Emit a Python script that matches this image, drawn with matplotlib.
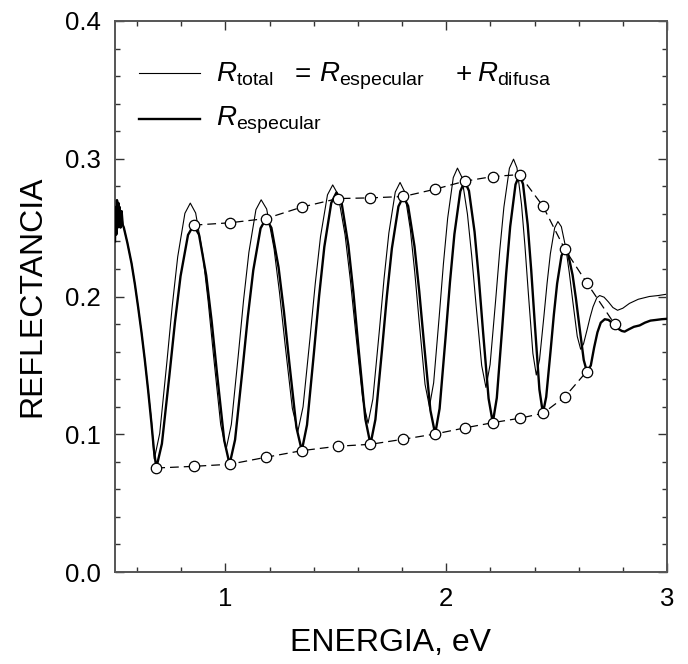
import matplotlib
matplotlib.use("Agg")
import matplotlib.pyplot as plt
from matplotlib.ticker import MultipleLocator

plt.rcParams['font.family'] = ['Liberation Sans', 'DejaVu Sans']
plt.rcParams['mathtext.fontset'] = 'custom'
plt.rcParams['mathtext.rm'] = 'Liberation Sans'
plt.rcParams['mathtext.it'] = 'Liberation Sans:italic'

# ---- data ----
spec_x = [0.500, 0.503, 0.506, 0.509, 0.512, 0.515, 0.518, 0.521, 0.525, 0.530, 0.535, 0.540,
          0.556, 0.575, 0.590, 0.605, 0.620, 0.635, 0.650, 0.665, 0.676,
          0.687, 0.7124, 0.7462, 0.7715, 0.7969, 0.8307,
          0.856, 0.8805, 0.9131, 0.9375, 0.9620, 0.9946,
          1.019, 1.0438, 1.0768, 1.1015, 1.1263, 1.1593,
          1.184, 1.2083, 1.2407, 1.265, 1.2893, 1.3217,
          1.346, 1.3696, 1.4010, 1.4245, 1.4481, 1.4795,
          1.503, 1.5261, 1.5569, 1.580, 1.6031, 1.6339,
          1.657, 1.6794, 1.7092, 1.7315, 1.7539, 1.7837,
          1.806, 1.8276, 1.8564, 1.878, 1.8996, 1.9284,
          1.950, 1.9701, 1.9969, 2.017, 2.0371, 2.0639,
          2.084, 2.1031, 2.1285, 2.1475, 2.1666, 2.1920,
          2.211, 2.2292, 2.2534, 2.2715, 2.2897, 2.3139,
          2.332, 2.3479, 2.3691, 2.385, 2.4009, 2.4221,
          2.438, 2.4529, 2.4727, 2.4875, 2.5024, 2.5222,
          2.537, 2.5522, 2.5724, 2.5875, 2.6027, 2.6229,
          2.638, 2.655, 2.670, 2.685, 2.700, 2.718, 2.735, 2.750, 2.765, 2.780,
          2.795, 2.808, 2.825, 2.850, 2.876, 2.900, 2.925, 2.951, 2.975, 3.000]
spec_y = [0.240, 0.265, 0.245, 0.270, 0.250, 0.268, 0.255, 0.265, 0.250, 0.262, 0.252, 0.250,
          0.239, 0.224, 0.209, 0.192, 0.174, 0.154, 0.132, 0.108, 0.089,
          0.0755, 0.0931, 0.1425, 0.1813, 0.2148, 0.2447,
          0.2518, 0.2449, 0.2153, 0.1824, 0.1442, 0.0956,
          0.0782, 0.0960, 0.1460, 0.1852, 0.2191, 0.2495,
          0.2566, 0.2499, 0.2212, 0.1892, 0.1521, 0.1049,
          0.0881, 0.1068, 0.1593, 0.2005, 0.2361, 0.2680,
          0.2755, 0.2682, 0.2371, 0.2024, 0.1622, 0.1110,
          0.0927, 0.1107, 0.1611, 0.2006, 0.2348, 0.2654,
          0.2726, 0.2657, 0.2364, 0.2036, 0.1657, 0.1174,
          0.1002, 0.1186, 0.1699, 0.2103, 0.2452, 0.2764,
          0.2837, 0.2767, 0.2469, 0.2136, 0.1750, 0.1259,
          0.1084, 0.1264, 0.1768, 0.2165, 0.2507, 0.2813,
          0.2885, 0.2816, 0.2521, 0.2192, 0.1811, 0.1325,
          0.1152, 0.1271, 0.1605, 0.1867, 0.2094, 0.2296,
          0.2344, 0.2308, 0.2156, 0.1986, 0.1790, 0.1539,
          0.1450, 0.150, 0.163, 0.174, 0.181, 0.1835, 0.1830, 0.181, 0.179, 0.1765,
          0.175, 0.1745, 0.176, 0.178, 0.179, 0.181, 0.1825, 0.183, 0.1835, 0.1838]

total_x = [0.500, 0.503, 0.506, 0.509, 0.512, 0.515, 0.518, 0.521, 0.525, 0.530, 0.535, 0.540,
           0.556, 0.575, 0.590, 0.605, 0.620, 0.635, 0.650, 0.665,
           0.678, 0.7025, 0.7351, 0.7595, 0.7840, 0.8166,
           0.841, 0.8653, 0.8977, 0.922, 0.9463, 0.9787,
           1.003, 1.0269, 1.0587, 1.0825, 1.1064, 1.1382,
           1.162, 1.1869, 1.2201, 1.245, 1.2699, 1.3031,
           1.328, 1.3517, 1.3833, 1.407, 1.4307, 1.4623,
           1.486, 1.510, 1.542, 1.566, 1.590, 1.622,
           1.646, 1.6678, 1.6968, 1.7185, 1.7403, 1.7693,
           1.791, 1.811, 1.8376, 1.8575, 1.8775, 1.9041,
           1.924, 1.9431, 1.9685, 1.9875, 2.0066, 2.032,
           2.051, 2.0704, 2.0962, 2.1155, 2.1349, 2.1607,
           2.180, 2.1988, 2.2238, 2.2425, 2.2613, 2.2863,
           2.305, 2.3205, 2.3411, 2.3565, 2.372, 2.3926,
           2.408, 2.4227, 2.4423, 2.457, 2.4717, 2.4913,
           2.506, 2.5215, 2.5421, 2.5575, 2.573, 2.5936,
           2.609, 2.6219, 2.6391, 2.652, 2.6649, 2.6821,
           2.695, 2.715, 2.735, 2.755, 2.776, 2.800, 2.830, 2.870, 2.920, 2.960, 3.000]
total_y = [0.242, 0.263, 0.247, 0.268, 0.251, 0.266, 0.256, 0.264, 0.251, 0.261, 0.253, 0.250,
           0.239, 0.224, 0.209, 0.192, 0.174, 0.154, 0.132, 0.110,
           0.082, 0.1006, 0.1526, 0.1935, 0.2288, 0.2604,
           0.2678, 0.2606, 0.2303, 0.1963, 0.1569, 0.1069,
           0.089, 0.1071, 0.1579, 0.1977, 0.2321, 0.2630,
           0.2702, 0.2635, 0.2349, 0.2029, 0.1659, 0.1188,
           0.102, 0.1199, 0.1700, 0.2094, 0.2434, 0.2738,
           0.281, 0.2741, 0.2447, 0.2118, 0.1737, 0.1253,
           0.108, 0.1255, 0.1744, 0.2129, 0.2461, 0.2758,
           0.2828, 0.2763, 0.2486, 0.2177, 0.1819, 0.1363,
           0.120, 0.1373, 0.1858, 0.2239, 0.2568, 0.2863,
           0.2932, 0.2868, 0.2598, 0.2295, 0.1945, 0.1499,
           0.134, 0.1506, 0.1970, 0.2334, 0.2649, 0.2931,
           0.2997, 0.2934, 0.2668, 0.2370, 0.2025, 0.1587,
           0.143, 0.1541, 0.1853, 0.2098, 0.2310, 0.2499,
           0.2544, 0.2507, 0.2349, 0.2173, 0.1969, 0.1710,
           0.1617, 0.1656, 0.1765, 0.1851, 0.1925, 0.1991,
           0.2007, 0.1995, 0.196, 0.192, 0.190, 0.1915, 0.195, 0.198, 0.200, 0.2007, 0.2017]

upper_x = [0.856, 1.019, 1.184, 1.346, 1.509, 1.657, 1.806, 1.950, 2.084, 2.211, 2.332, 2.438, 2.537, 2.636, 2.763]
upper_y = [0.2518, 0.2535, 0.2566, 0.2649, 0.2711, 0.2716, 0.2726, 0.2779, 0.2837, 0.2871, 0.2885, 0.2656, 0.2344, 0.2101, 0.1799]
lower_x = [0.687, 0.856, 1.019, 1.184, 1.346, 1.509, 1.657, 1.806, 1.950, 2.084, 2.211, 2.332, 2.438, 2.537, 2.636]
lower_y = [0.0755, 0.0767, 0.0782, 0.0833, 0.0881, 0.0913, 0.0927, 0.0964, 0.1002, 0.1046, 0.1084, 0.1116, 0.1152, 0.1271, 0.1455]

x_ticks = [1, 2, 3]
y_ticks = [0.0, 0.1, 0.2, 0.3, 0.4]

# ---- figure ----
W, H = 688, 664
fig = plt.figure(figsize=(W / 100, H / 100), dpi=100)
L, R, T, B = 115, 667, 21, 572
ax = fig.add_axes([L / W, (H - B) / H, (R - L) / W, (B - T) / H])

ax.plot(total_x, total_y, color='black', lw=0.8, zorder=2)
ax.plot(spec_x, spec_y, color='black', lw=1.7, zorder=3)
env_kw = dict(color='black', lw=0.9, dashes=(7, 4), marker='o', markersize=7.5,
              markerfacecolor='white', markeredgecolor='black', markeredgewidth=0.9, zorder=4)
ax.plot(upper_x, upper_y, **env_kw)
ax.plot(lower_x, lower_y, **env_kw)

ax.set_xlim(0.5, 3.0)
ax.set_ylim(0.0, 0.4)
ax.set_xticks(x_ticks)
ax.set_xticklabels([str(v) for v in x_ticks])
ax.set_yticks(y_ticks)
ax.set_yticklabels([f"{v:.1f}" for v in y_ticks])
ax.xaxis.set_minor_locator(MultipleLocator(0.2))
ax.yaxis.set_minor_locator(MultipleLocator(0.02))
ax.tick_params(which='both', direction='in', top=True, right=True, color='#333333')
ax.tick_params(which='major', length=6.5, width=1.0, labelsize=18.5, pad=10)
ax.tick_params(which='minor', length=3.5, width=1.0)
ax.tick_params(axis='x', which='major', pad=11)
for s in ax.spines.values():
    s.set_linewidth(1.4)
    s.set_color('#555555')

ax.set_xlabel('ENERGIA, eV', fontsize=23)
ax.set_ylabel('REFLECTANCIA', fontsize=23)
ax.xaxis.set_label_coords(0.5, (B - 628) / (B - T))
ax.yaxis.set_label_coords((17 - L) / (R - L), 0.5)
ax.yaxis.label.set_va('top')


def axc(px, py):
    return (px - L) / (R - L), (B - py) / (B - T)


# legend drawn manually
row1, row2 = 73, 119
for py, lw in ((row1, 0.8), (row2, 1.7)):
    x0, y0 = axc(139, py)
    x1, _ = axc(200, py)
    ax.plot([x0, x1], [y0, y0], color='black', lw=lw, transform=ax.transAxes, clip_on=False)

fs = 20
base1 = row1 + 9
base2 = row2 + 6
pieces = [(216, base1, r'$R_{\mathrm{total}}$'), (295, base1, '='),
          (319, base1, r'$R_{\mathrm{especular}}$'), (456, base1, '+'),
          (477, base1, r'$R_{\mathrm{difusa}}$'), (216, base2, r'$R_{\mathrm{especular}}$')]
for px, py, s in pieces:
    tx, ty = axc(px, py)
    ax.text(tx, ty, s, transform=ax.transAxes, fontsize=fs, ha='left', va='baseline')

fig.savefig('out.png', dpi=100)
